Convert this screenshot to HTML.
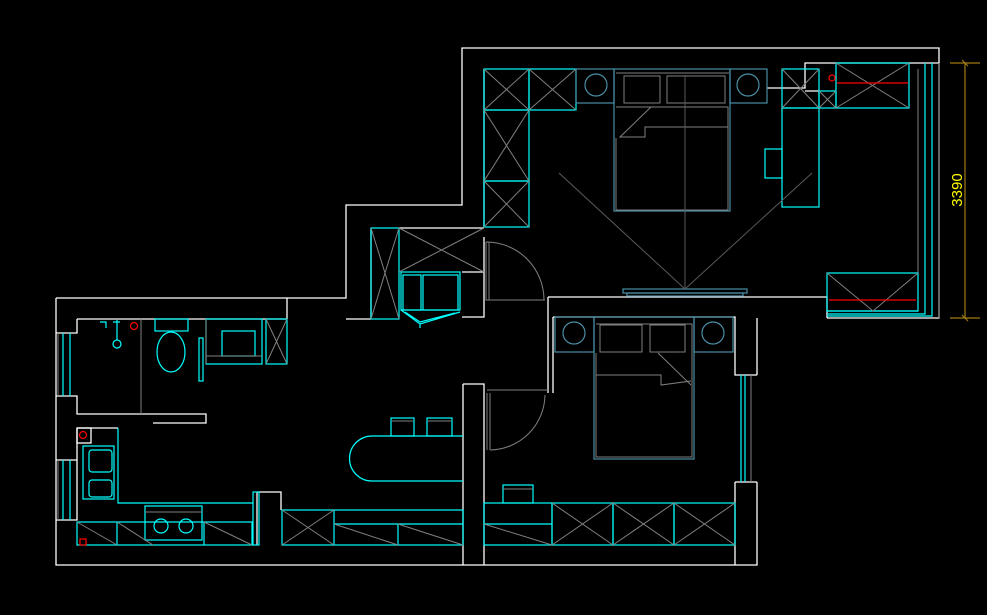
<!DOCTYPE html>
<html><head><meta charset="utf-8"><style>
html,body{margin:0;padding:0;background:#000;width:987px;height:615px;overflow:hidden}
svg{display:block}
.w{stroke:#fff;fill:none;stroke-width:1.3}
.c{stroke:#00ffff;fill:none;stroke-width:1.2}
.g{stroke:#808080;fill:none;stroke-width:1}
.s{stroke:#4a8ea6;fill:none;stroke-width:1.2}
.d{stroke:#5a5a5a;fill:none;stroke-width:1}
.r{stroke:#ff0000;fill:none;stroke-width:1.2}
</style></head><body>
<svg width="987" height="615" viewBox="0 0 987 615" xmlns="http://www.w3.org/2000/svg">
<path class="w" d="M56,298 H287 V319 M287,298 H346 V205 H462 V48 H939 V318 H827 M757,318 V375 M757,482 V565 H56 V298"/>
<path class="w" d="M77,319 H287 M77,319 V333 H56 M56,396 H77 V414 H153 M77,428 H118 M56,460 H77 V520 H56 M77,428 V460"/>
<path class="w" d="M484,69 V227 M767,88 H805 V63 H939 M805,91 H819"/>
<path class="w" d="M371,228 V319 M346,319 H371 M462,272 H484 V317 H462 M484,237 V300"/>
<path class="w" d="M548,297 H827 V318 M548,297 V393 M553,317 V393 M553,317 H735 V375 H757 M735,482 H757 M735,482 V565"/>
<path class="w" d="M463,384 H484 V565 M463,384 V565 M257,492 H281 V510 M153,414 H206 V423 H153 M257,492 V545"/>
<path class="c" d="M63,333 V396 M70,333 V396 M63,460 V520 M70,460 V520 M741,375 V482 M745,375 V482"/>
<path class="g" d="M58,333 V396 M58,460 V520 M751,375 V482"/>
<path class="g" d="M918,69 V273"/>
<path class="c" d="M925,63 V314 H827 M932,63 V316 H827 M827,311 H918"/>
<path class="g" d="M939,63 V318"/>
<g class="c"><rect x="484" y="69" width="45" height="41"/><rect x="529" y="69" width="47" height="41"/><rect x="484" y="110" width="45" height="71"/><rect x="484" y="181" width="45" height="46"/>
<rect x="782" y="69" width="37" height="39"/><rect x="819" y="91" width="17" height="17"/><rect x="836" y="63" width="73" height="45"/>
<rect x="782" y="108" width="37" height="99"/><rect x="765" y="149" width="17" height="29"/><rect x="827" y="273" width="91" height="38"/></g>
<path class="g" d="M484,69 L529,110 M529,69 L484,110 M529,69 L576,110 M576,69 L529,110 M484,110 L529,181 M529,110 L484,181 M484,181 L529,227 M529,181 L484,227 M782,69 L819,108 M819,69 L782,108 M819,91 L836,108 M836,91 L819,108 M836,63 L909,108 M909,63 L836,108 M827,273 L873,311 L918,273"/>
<path class="r" d="M837,83 H908 M829,300 H916"/>
<circle class="r" cx="832" cy="78" r="3"/>
<g class="s"><rect x="576" y="69" width="38" height="34"/><rect x="730" y="69" width="37" height="34"/><rect x="614" y="69" width="116" height="142"/>
<circle cx="596" cy="85" r="11"/><circle cx="748" cy="85" r="11"/><rect x="623" y="289" width="124" height="4"/><rect x="627" y="293" width="116" height="3"/></g>
<path class="g" d="M616,73 H729 M616,107 H728 V210 H616 V138 M624,76 H660 V103 H624Z M667,76 H725 V103 H667Z M651,107 L620,137 L645,137 V127 L728,127"/>
<path class="d" d="M559,173 L685,289 L812,173 M685,75 V289"/>
<path class="g" d="M486,242 V300 H545 M489,242 V300 M486,242 A58,58 0 0 1 544,300"/>
<path stroke="#a07a10" stroke-width="1.2" fill="none" d="M965,63 V318 M950,63 H980 M950,318 H980 M962,60 L968,66 M962,315 L968,321"/>
<text x="962" y="190" fill="#ffff00" font-family="Liberation Sans, sans-serif" font-size="15" transform="rotate(-90 962 190)" text-anchor="middle">3390</text>
<g class="c"><rect x="371" y="228" width="28" height="91"/><rect x="401" y="272" width="59" height="38"/><rect x="403" y="275" width="18" height="35"/><rect x="423" y="275" width="35" height="35"/></g>
<path class="w" d="M399,228 H484"/>
<path class="g" d="M371,228 L385,273 L371,319 M399,228 L385,273 L399,319 M399,228 L484,272 M484,228 L399,272"/>
<path class="c" d="M401,310 L420,324 L460,312 M405,312 L420,322 L455,313 M420,324 V328"/>
<g class="s"><rect x="555" y="317" width="39" height="35"/><rect x="694" y="317" width="39" height="35"/><rect x="594" y="317" width="100" height="142"/>
<circle cx="574" cy="333" r="11"/><circle cx="713" cy="333" r="11"/></g>
<path class="g" d="M596,324 H692 V457 H596 V353 M600,325 H642 V352 H600Z M650,325 H685 V352 H650Z M596,375 H661 V385 L691,381 M658,353 L691,385"/>
<path class="g" d="M487,390 H548 M487,393 V450 M490,393 V450 M490,450 A56,56 0 0 0 545,395"/>
<g class="c"><rect x="484" y="503" width="68" height="42"/><rect x="552" y="503" width="61" height="42"/><rect x="613" y="503" width="61" height="42"/><rect x="674" y="503" width="61" height="42"/><rect x="503" y="485" width="30" height="18"/><path d="M484,524 H552"/></g>
<path class="g" d="M484,524 L552,545 M552,503 L613,545 M613,503 L552,545 M613,503 L674,545 M674,503 L613,545 M674,503 L735,545 M735,503 L674,545 M503,489 H533"/>
<path class="c" d="M463,436 H372 A22.5,22.5 0 0 0 372,481 H463"/>
<g class="c"><rect x="391" y="418" width="23" height="18"/><rect x="427" y="418" width="25" height="18"/></g>
<path class="g" d="M392,421 H413 M428,421 H451"/>
<g class="c"><rect x="282" y="510" width="181" height="35"/><path d="M334,510 V545 M334,524 H463 M398,524 V545"/></g>
<path class="g" d="M282,510 L334,545 M334,510 L282,545 M334,524 L398,545 M398,524 L463,545"/>
<g class="c"><rect x="77" y="522" width="175" height="23"/><path d="M117,522 V545 M204,522 V545 M118,428 V503 H253"/>
<rect x="83" y="446" width="31" height="53"/><rect x="89" y="450" width="23" height="22" rx="3"/><rect x="89" y="480" width="23" height="17" rx="3"/>
<rect x="145" y="506" width="57" height="34"/><circle cx="161" cy="526" r="7"/><circle cx="186" cy="526" r="7"/>
<rect x="253" y="492" width="6" height="53"/></g>
<path class="g" d="M145,512 H202 M77,522 L117,545 M117,522 L153,545 M204,522 L252,545"/>
<rect class="r" x="80" y="539" width="6" height="6"/>
<circle class="r" cx="83" cy="435" r="3.5"/>
<circle class="r" cx="134" cy="326" r="3.5"/>
<rect class="w" x="77" y="428" width="14" height="15"/>
<path class="g" d="M141,319 V414"/>
<g class="c"><rect x="155" y="319" width="33" height="12"/><ellipse cx="171" cy="352" rx="14" ry="20"/>
<rect x="206" y="319" width="56" height="45"/><rect x="222" y="331" width="33" height="25"/><rect x="266" y="319" width="21" height="45"/>
<rect x="199" y="338" width="4" height="43"/><circle cx="117" cy="344" r="4"/><path d="M117,320 V340 M100,322 H106 V328 M113,322 H120"/></g>
<path class="g" d="M266,319 L287,364 M287,319 L266,364 M206,319 V364 M206,356 H262"/>
</svg>
</body></html>
